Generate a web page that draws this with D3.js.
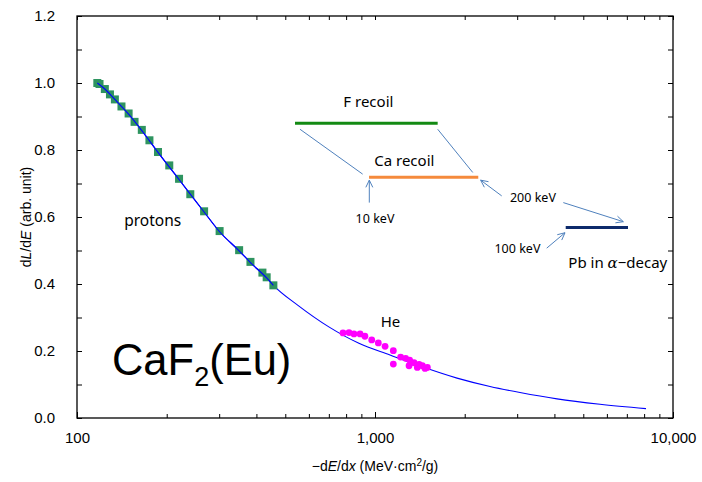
<!DOCTYPE html>
<html>
<head>
<meta charset="utf-8">
<script src="https://cdn.jsdelivr.net/npm/d3@7"></script>
<style>
  body{margin:0;background:#fff;}
  svg{display:block;}
</style>
</head>
<body>
<svg id="chart" width="702" height="482"></svg>
<script>
/* ── data ── */
var protonX=[117,119,124,129,134,141,149,156,165,175,187,204,220,240,267,301,350,382,419,433,456];
var protonY=[1.0,0.997,0.982,0.966,0.951,0.930,0.909,0.884,0.860,0.829,0.794,0.754,0.714,0.668,0.617,0.558,0.501,0.466,0.434,0.420,0.396];

var heX=[781,818,850,891,925,975,1026,1081,1152,1152,1219,1267,1307,1301,1352,1406,1387,1442,1499,1472];
var heY=[0.254,0.255,0.251,0.251,0.244,0.233,0.224,0.214,0.201,0.161,0.182,0.178,0.173,0.156,0.165,0.160,0.151,0.156,0.151,0.148];

var curveX=[117,124,134,149,165,187,220,267,301,350,382,433,456,550,700,883,1123,1416,1885,2432,3066,4081,5689,8118];
var curveY=[1.0,0.982,0.951,0.907,0.858,0.793,0.712,0.615,0.556,0.499,0.464,0.418,0.396,0.337,0.272,0.223,0.188,0.155,0.119,0.094,0.076,0.057,0.041,0.028];

var xTicks=[100,1000,10000];
var yTicks=[0,0.2,0.4,0.6,0.8,1.0,1.2];

/* recoil bands: [x0, x1, y] */
var bandNames=['F','Ca','Pb'];
var bandX0=[539,955,4365];
var bandX1=[1623,2221,7063];
var bandY=[0.880,0.719,0.569];
var bandColor=['#138a13','#f58a3c','#0d2a6b'];

/* connector lines and arrows: [x0,y0,x1,y1] in data units */
var guideLines=[[560,0.862,909,0.728],[1623,0.862,2128,0.733]];
var arrows=[[957,0.643,957,0.710],[2662,0.663,2262,0.710],[4285,0.643,6812,0.586],[3769,0.507,4341,0.553]];

/* annotation texts */
var noteText=['F recoil','Ca recoil','10 keV','200 keV','100 keV','protons','He'];
var noteX=[950,1254,1000,3388,3006,144,1045];
var noteY=[0.927,0.753,0.581,0.646,0.492,0.573,0.271];
var noteAnchor=['middle','middle','middle','middle','middle','start','start'];
var noteSize=[15,15,12.5,12.5,12.5,15.5,15];

/* ── scales ── */
var svg=d3.select('#chart');
var X0=77, X1=673, Y0=418, Y1=16;
var xS=d3.scaleLog().domain([100,10000]).range([X0,X1]);
var yS=d3.scaleLinear().domain([0,1.2]).range([Y0,Y1]);
var FONT='Liberation Sans, Arial, sans-serif';
var NOTE_FONT='Noto Sans, sans-serif';

/* ── axes: ticks inside, mirrored ── */
var xMinor=[];
for(var d=100;d<10000;d*=10){for(var m=2;m<=9;m++) xMinor.push(d*m);}
var yMinor=d3.range(0.1,1.2,0.2);

svg.append('g').attr('transform','translate(0,'+Y0+')')
  .call(d3.axisBottom(xS).tickValues(xTicks).tickSize(-6).tickPadding(14)
    .tickFormat(d3.format(',')))
  .call(function(g){g.select('.domain').remove();
    g.selectAll('text').attr('font-family',FONT).attr('font-size','15px').attr('fill','#000');});
svg.append('g').attr('transform','translate(0,'+Y0+')')
  .call(d3.axisBottom(xS).tickValues(xMinor).tickSize(-4).tickFormat(''))
  .call(function(g){g.select('.domain').remove();});
svg.append('g').attr('transform','translate(0,'+Y1+')')
  .call(d3.axisTop(xS).tickValues(xTicks.concat(xMinor)).tickSize(-4).tickFormat(''))
  .call(function(g){g.select('.domain').remove();});

svg.append('g').attr('transform','translate('+X0+',0)')
  .call(d3.axisLeft(yS).tickValues(yTicks).tickSize(-5).tickPadding(22).tickFormat(d3.format('.1f')))
  .call(function(g){g.select('.domain').remove();
    g.selectAll('text').attr('font-family',FONT).attr('font-size','15px').attr('fill','#000');});
svg.append('g').attr('transform','translate('+X0+',0)')
  .call(d3.axisLeft(yS).tickValues(yMinor).tickSize(-5).tickFormat(''))
  .call(function(g){g.select('.domain').remove();});
svg.append('g').attr('transform','translate('+X1+',0)')
  .call(d3.axisRight(yS).tickValues(yTicks.concat(yMinor)).tickSize(-5).tickFormat(''))
  .call(function(g){g.select('.domain').remove();});

svg.append('rect').attr('x',X0).attr('y',Y1).attr('width',X1-X0).attr('height',Y0-Y1)
  .attr('fill','none').attr('stroke','#000').attr('stroke-width',1.3);

/* axis titles */
var yt=svg.append('text').attr('transform','translate(31,'+((Y0+Y1)/2)+') rotate(-90)')
  .attr('text-anchor','middle').attr('font-family',FONT).attr('font-size','14px');
yt.append('tspan').text('d');
yt.append('tspan').attr('font-style','italic').text('L');
yt.append('tspan').text('/d');
yt.append('tspan').attr('font-style','italic').text('E');
yt.append('tspan').text('  (arb. unit)');

var xt=svg.append('text').attr('x',(X0+X1)/2).attr('y',471)
  .attr('text-anchor','middle').attr('font-family',FONT).attr('font-size','14px');
xt.append('tspan').text('\u2212d');
xt.append('tspan').attr('font-style','italic').text('E');
xt.append('tspan').text('/d');
xt.append('tspan').attr('font-style','italic').text('x');
xt.append('tspan').text('  (MeV\u00b7cm');
xt.append('tspan').attr('font-size','10px').attr('dy',-5).text('2');
xt.append('tspan').attr('dy',5).text('/g)');

/* ── fit curve ── */
var line=d3.line().x(function(d){return xS(d[0])}).y(function(d){return yS(d[1])}).curve(d3.curveMonotoneX);
svg.append('path').datum(d3.zip(curveX,curveY)).attr('d',line)
  .attr('fill','none').attr('stroke','#0000ff').attr('stroke-width',1.1);

/* ── proton squares ── */
svg.append('g').selectAll('rect').data(d3.zip(protonX,protonY)).join('rect')
  .attr('x',function(d){return xS(d[0])-4}).attr('y',function(d){return yS(d[1])-4})
  .attr('width',8).attr('height',8).attr('fill','#2e9460');
/* line shows through on top */
svg.append('path').datum(d3.zip(curveX,curveY).slice(0,13)).attr('d',line)
  .attr('fill','none').attr('stroke','#0000ff').attr('stroke-width',1.1);

/* ── He dots ── */
svg.append('g').selectAll('circle').data(d3.zip(heX,heY)).join('circle')
  .attr('cx',function(d){return xS(d[0])}).attr('cy',function(d){return yS(d[1])})
  .attr('r',3.4).attr('fill','#ff00ff');

/* ── recoil bands ── */
bandNames.forEach(function(n,i){
  svg.append('line').attr('x1',xS(bandX0[i])).attr('x2',xS(bandX1[i]))
    .attr('y1',yS(bandY[i])).attr('y2',yS(bandY[i]))
    .attr('stroke',bandColor[i]).attr('stroke-width',3);
});

var GUIDE='#4f81bd';
guideLines.forEach(function(s){
  svg.append('line').attr('x1',xS(s[0])).attr('y1',yS(s[1])).attr('x2',xS(s[2])).attr('y2',yS(s[3]))
    .attr('stroke',GUIDE).attr('stroke-width',1);
});
arrows.forEach(function(s){
  var x0=xS(s[0]),y0=yS(s[1]),x1=xS(s[2]),y1=yS(s[3]);
  var a=Math.atan2(y1-y0,x1-x0), L=8, w=0.45;
  svg.append('line').attr('x1',x0).attr('y1',y0).attr('x2',x1).attr('y2',y1)
    .attr('stroke',GUIDE).attr('stroke-width',1);
  svg.append('path')
    .attr('d','M'+(x1-L*Math.cos(a-w))+','+(y1-L*Math.sin(a-w))+'L'+x1+','+y1+'L'+(x1-L*Math.cos(a+w))+','+(y1-L*Math.sin(a+w)))
    .attr('fill','none').attr('stroke',GUIDE).attr('stroke-width',1);
});

/* ── annotation texts ── */
noteText.forEach(function(t,i){
  svg.append('text').attr('x',xS(noteX[i])).attr('y',yS(noteY[i]))
    .attr('text-anchor',noteAnchor[i]).attr('font-family',NOTE_FONT)
    .attr('font-size',noteSize[i]+'px').attr('fill','#000').text(t);
});
var pb=svg.append('text').attr('x',xS(4454)).attr('y',yS(0.447))
  .attr('font-family',NOTE_FONT).attr('font-size','15px');
pb.append('tspan').text('Pb in ');
pb.append('tspan').attr('font-family','DejaVu Serif, serif').attr('font-style','italic').text('\u03b1');
pb.append('tspan').text('\u2212decay');

/* big label */
var big=svg.append('text').attr('x',xS(131)).attr('y',yS(0.128))
  .attr('font-family',FONT).attr('font-size','43.5px').attr('fill','#000');
big.append('tspan').text('CaF');
big.append('tspan').attr('font-size','27px').attr('dy',11).text('2');
big.append('tspan').attr('dy',-11).text('(Eu)');
</script>
</body>
</html>
